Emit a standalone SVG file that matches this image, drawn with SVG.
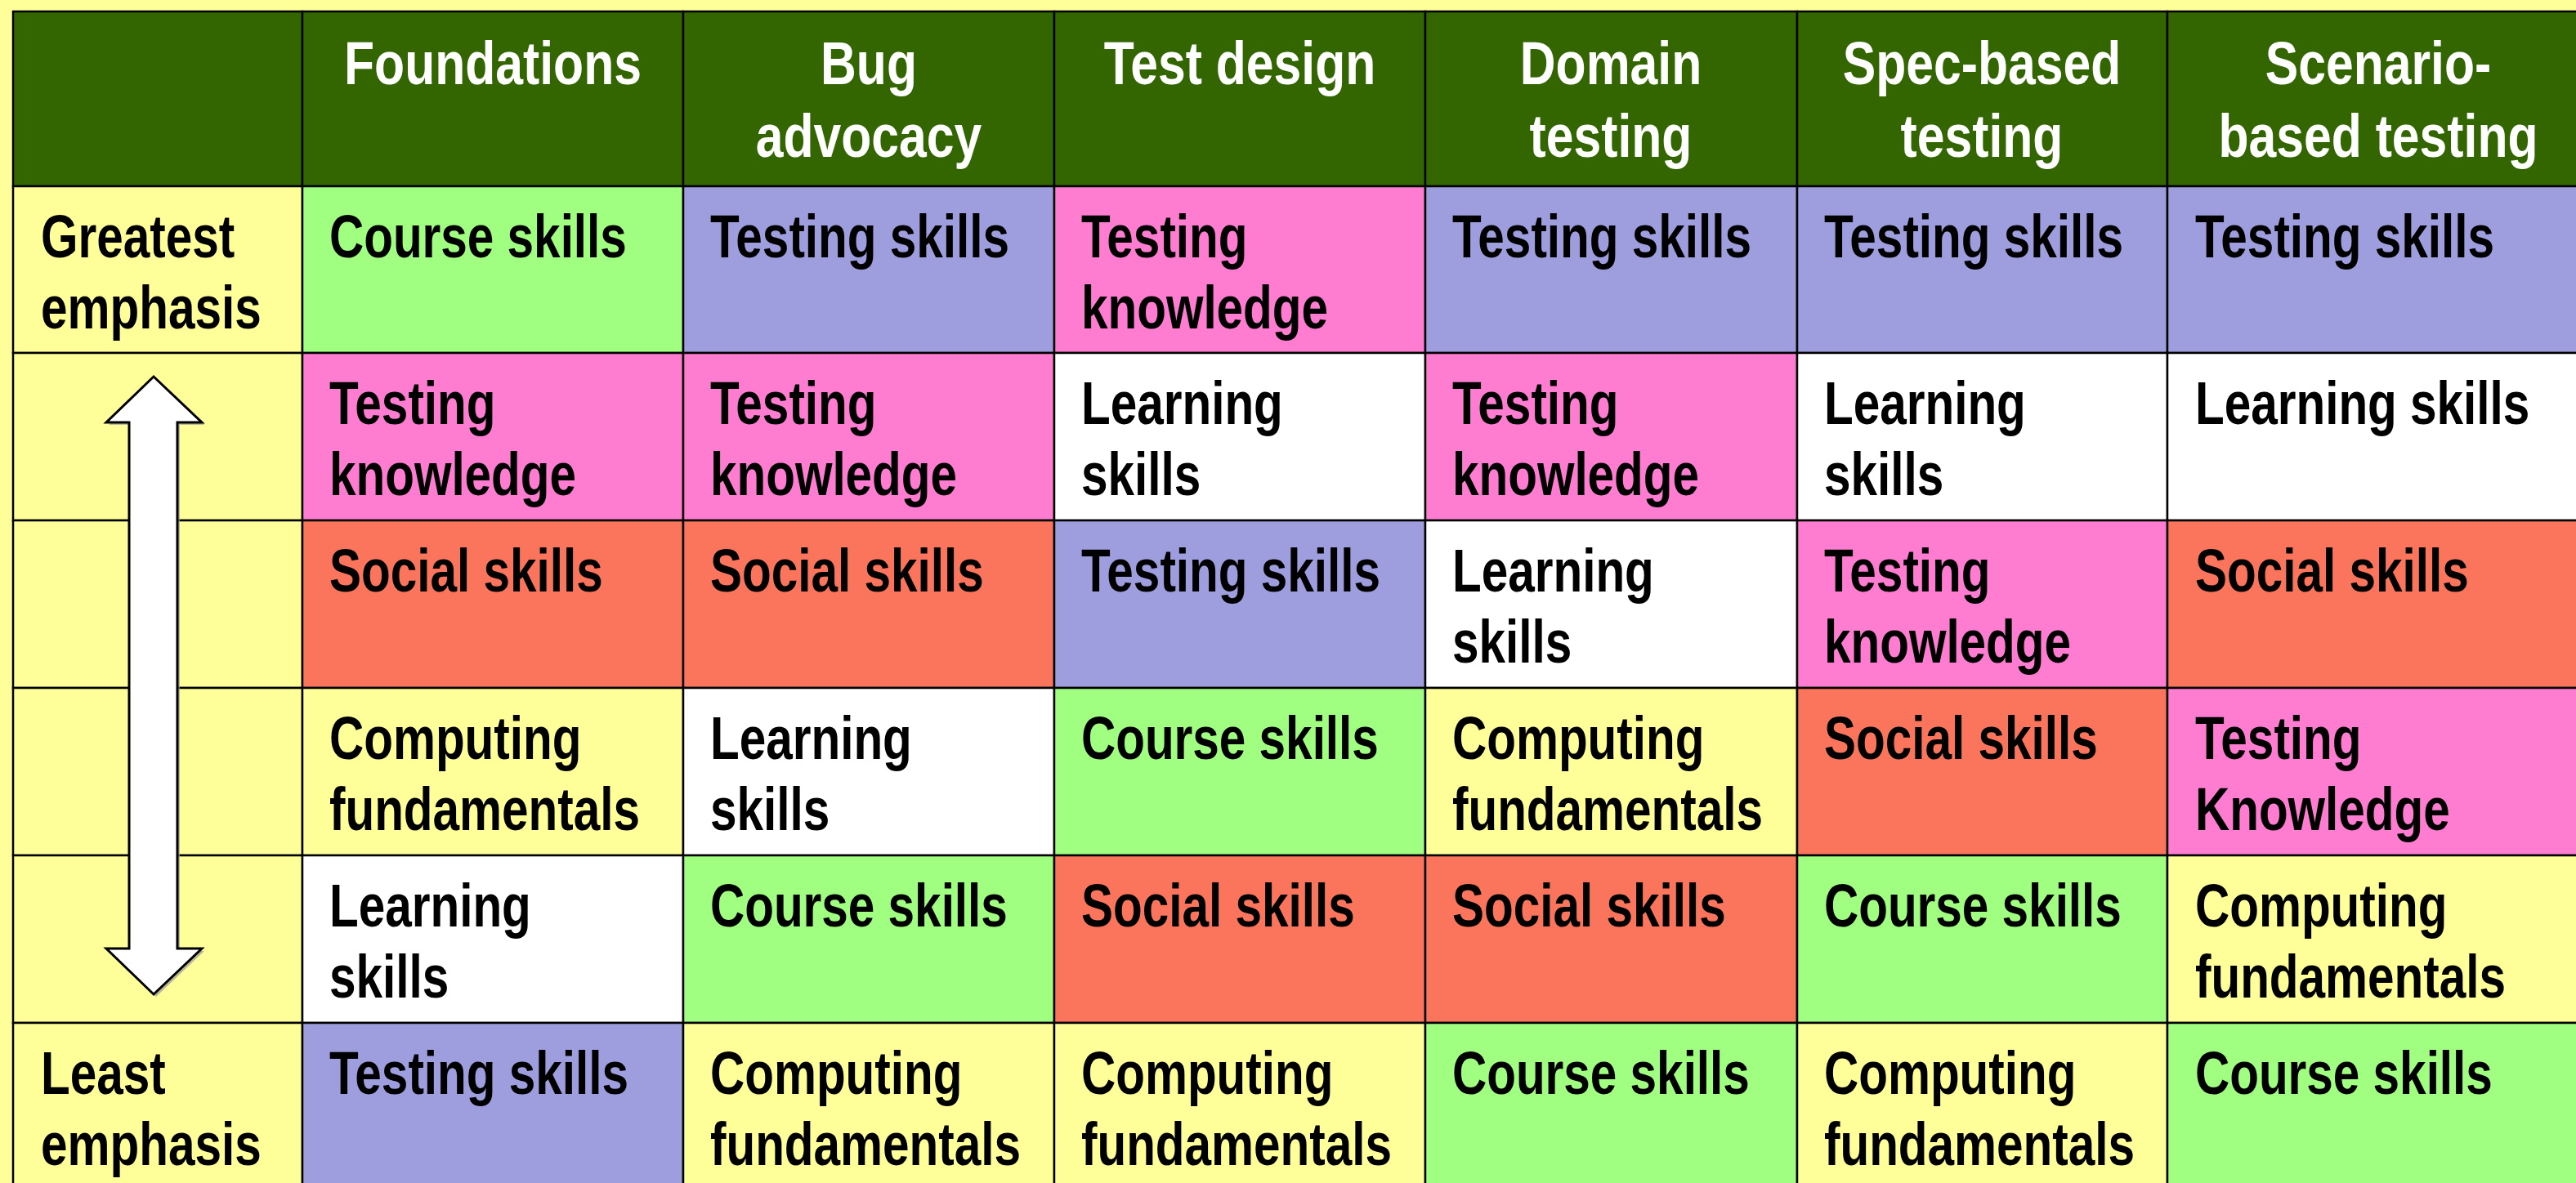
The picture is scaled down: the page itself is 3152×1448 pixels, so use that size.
<svg xmlns="http://www.w3.org/2000/svg" width="3152" height="1448" viewBox="0 0 3152 1448">
<style>
.c{stroke:#000;stroke-width:2.5}
.hd{fill:#336600}
.G{fill:#A0FF80}.L{fill:#9E9EDE}.P{fill:#FF7DD0}.S{fill:#FA755C}.W{fill:#FFFFFF}.Y{fill:#FFFF99}
.t{font-family:"Liberation Sans",Arial,sans-serif;font-weight:bold;font-size:74px;fill:#000}
.h{fill:#FFFFFF;text-anchor:middle}
</style>
<rect x="0" y="0" width="3152" height="1448" fill="#FFFF99"/>
<g id="header">
<g id="h0"><rect class="c hd" x="16" y="14" width="354" height="214"/></g>
<g id="h1"><rect class="c hd" x="370" y="14" width="466" height="214"/><text class="t h" transform="translate(603,103) scale(0.82,1)">Foundations</text></g>
<g id="h2"><rect class="c hd" x="836" y="14" width="454" height="214"/><text class="t h" transform="translate(1063,103) scale(0.82,1)"><tspan x="0" y="0">Bug</tspan><tspan x="0" y="89">advocacy</tspan></text></g>
<g id="h3"><rect class="c hd" x="1290" y="14" width="454" height="214"/><text class="t h" transform="translate(1517,103) scale(0.82,1)">Test design</text></g>
<g id="h4"><rect class="c hd" x="1744" y="14" width="455" height="214"/><text class="t h" transform="translate(1971,103) scale(0.82,1)"><tspan x="0" y="0">Domain</tspan><tspan x="0" y="89">testing</tspan></text></g>
<g id="h5"><rect class="c hd" x="2199" y="14" width="453" height="214"/><text class="t h" transform="translate(2425,103) scale(0.82,1)"><tspan x="0" y="0">Spec-based</tspan><tspan x="0" y="89">testing</tspan></text></g>
<g id="h6"><rect class="c hd" x="2652" y="14" width="516" height="214"/><text class="t h" transform="translate(2910,103) scale(0.82,1)"><tspan x="0" y="0">Scenario-</tspan><tspan x="0" y="89">based testing</tspan></text></g>
</g>
<g id="rowlabels">
<g id="r1c0"><rect class="c Y" x="16" y="228" width="354" height="204"/><text class="t" transform="translate(50,315) scale(0.79,1)"><tspan x="0" y="0">Greatest</tspan><tspan x="0" y="87">emphasis</tspan></text></g>
<g id="r2c0"><rect class="c Y" x="16" y="432" width="354" height="205"/></g>
<g id="r3c0"><rect class="c Y" x="16" y="637" width="354" height="205"/></g>
<g id="r4c0"><rect class="c Y" x="16" y="842" width="354" height="205"/></g>
<g id="r5c0"><rect class="c Y" x="16" y="1047" width="354" height="205"/></g>
<g id="r6c0"><rect class="c Y" x="16" y="1252" width="354" height="210"/><text class="t" transform="translate(50,1339) scale(0.79,1)"><tspan x="0" y="0">Least</tspan><tspan x="0" y="87">emphasis</tspan></text></g>
</g>
<g id="cells">
<g id="r1c1"><rect class="c G" x="370" y="228" width="466" height="204"/><text class="t" transform="translate(403,315) scale(0.79,1)">Course skills</text></g>
<g id="r1c2"><rect class="c L" x="836" y="228" width="454" height="204"/><text class="t" transform="translate(869,315) scale(0.79,1)">Testing skills</text></g>
<g id="r1c3"><rect class="c P" x="1290" y="228" width="454" height="204"/><text class="t" transform="translate(1323,315) scale(0.79,1)"><tspan x="0" y="0">Testing</tspan><tspan x="0" y="87">knowledge</tspan></text></g>
<g id="r1c4"><rect class="c L" x="1744" y="228" width="455" height="204"/><text class="t" transform="translate(1777,315) scale(0.79,1)">Testing skills</text></g>
<g id="r1c5"><rect class="c L" x="2199" y="228" width="453" height="204"/><text class="t" transform="translate(2232,315) scale(0.79,1)">Testing skills</text></g>
<g id="r1c6"><rect class="c L" x="2652" y="228" width="516" height="204"/><text class="t" transform="translate(2686,315) scale(0.79,1)">Testing skills</text></g>

<g id="r2c1"><rect class="c P" x="370" y="432" width="466" height="205"/><text class="t" transform="translate(403,519) scale(0.79,1)"><tspan x="0" y="0">Testing</tspan><tspan x="0" y="87">knowledge</tspan></text></g>
<g id="r2c2"><rect class="c P" x="836" y="432" width="454" height="205"/><text class="t" transform="translate(869,519) scale(0.79,1)"><tspan x="0" y="0">Testing</tspan><tspan x="0" y="87">knowledge</tspan></text></g>
<g id="r2c3"><rect class="c W" x="1290" y="432" width="454" height="205"/><text class="t" transform="translate(1323,519) scale(0.79,1)"><tspan x="0" y="0">Learning</tspan><tspan x="0" y="87">skills</tspan></text></g>
<g id="r2c4"><rect class="c P" x="1744" y="432" width="455" height="205"/><text class="t" transform="translate(1777,519) scale(0.79,1)"><tspan x="0" y="0">Testing</tspan><tspan x="0" y="87">knowledge</tspan></text></g>
<g id="r2c5"><rect class="c W" x="2199" y="432" width="453" height="205"/><text class="t" transform="translate(2232,519) scale(0.79,1)"><tspan x="0" y="0">Learning</tspan><tspan x="0" y="87">skills</tspan></text></g>
<g id="r2c6"><rect class="c W" x="2652" y="432" width="516" height="205"/><text class="t" transform="translate(2686,519) scale(0.79,1)">Learning skills</text></g>

<g id="r3c1"><rect class="c S" x="370" y="637" width="466" height="205"/><text class="t" transform="translate(403,724) scale(0.79,1)">Social skills</text></g>
<g id="r3c2"><rect class="c S" x="836" y="637" width="454" height="205"/><text class="t" transform="translate(869,724) scale(0.79,1)">Social skills</text></g>
<g id="r3c3"><rect class="c L" x="1290" y="637" width="454" height="205"/><text class="t" transform="translate(1323,724) scale(0.79,1)">Testing skills</text></g>
<g id="r3c4"><rect class="c W" x="1744" y="637" width="455" height="205"/><text class="t" transform="translate(1777,724) scale(0.79,1)"><tspan x="0" y="0">Learning</tspan><tspan x="0" y="87">skills</tspan></text></g>
<g id="r3c5"><rect class="c P" x="2199" y="637" width="453" height="205"/><text class="t" transform="translate(2232,724) scale(0.79,1)"><tspan x="0" y="0">Testing</tspan><tspan x="0" y="87">knowledge</tspan></text></g>
<g id="r3c6"><rect class="c S" x="2652" y="637" width="516" height="205"/><text class="t" transform="translate(2686,724) scale(0.79,1)">Social skills</text></g>

<g id="r4c1"><rect class="c Y" x="370" y="842" width="466" height="205"/><text class="t" transform="translate(403,929) scale(0.79,1)"><tspan x="0" y="0">Computing</tspan><tspan x="0" y="87">fundamentals</tspan></text></g>
<g id="r4c2"><rect class="c W" x="836" y="842" width="454" height="205"/><text class="t" transform="translate(869,929) scale(0.79,1)"><tspan x="0" y="0">Learning</tspan><tspan x="0" y="87">skills</tspan></text></g>
<g id="r4c3"><rect class="c G" x="1290" y="842" width="454" height="205"/><text class="t" transform="translate(1323,929) scale(0.79,1)">Course skills</text></g>
<g id="r4c4"><rect class="c Y" x="1744" y="842" width="455" height="205"/><text class="t" transform="translate(1777,929) scale(0.79,1)"><tspan x="0" y="0">Computing</tspan><tspan x="0" y="87">fundamentals</tspan></text></g>
<g id="r4c5"><rect class="c S" x="2199" y="842" width="453" height="205"/><text class="t" transform="translate(2232,929) scale(0.79,1)">Social skills</text></g>
<g id="r4c6"><rect class="c P" x="2652" y="842" width="516" height="205"/><text class="t" transform="translate(2686,929) scale(0.79,1)"><tspan x="0" y="0">Testing</tspan><tspan x="0" y="87">Knowledge</tspan></text></g>

<g id="r5c1"><rect class="c W" x="370" y="1047" width="466" height="205"/><text class="t" transform="translate(403,1134) scale(0.79,1)"><tspan x="0" y="0">Learning</tspan><tspan x="0" y="87">skills</tspan></text></g>
<g id="r5c2"><rect class="c G" x="836" y="1047" width="454" height="205"/><text class="t" transform="translate(869,1134) scale(0.79,1)">Course skills</text></g>
<g id="r5c3"><rect class="c S" x="1290" y="1047" width="454" height="205"/><text class="t" transform="translate(1323,1134) scale(0.79,1)">Social skills</text></g>
<g id="r5c4"><rect class="c S" x="1744" y="1047" width="455" height="205"/><text class="t" transform="translate(1777,1134) scale(0.79,1)">Social skills</text></g>
<g id="r5c5"><rect class="c G" x="2199" y="1047" width="453" height="205"/><text class="t" transform="translate(2232,1134) scale(0.79,1)">Course skills</text></g>
<g id="r5c6"><rect class="c Y" x="2652" y="1047" width="516" height="205"/><text class="t" transform="translate(2686,1134) scale(0.79,1)"><tspan x="0" y="0">Computing</tspan><tspan x="0" y="87">fundamentals</tspan></text></g>

<g id="r6c1"><rect class="c L" x="370" y="1252" width="466" height="210"/><text class="t" transform="translate(403,1339) scale(0.79,1)">Testing skills</text></g>
<g id="r6c2"><rect class="c Y" x="836" y="1252" width="454" height="210"/><text class="t" transform="translate(869,1339) scale(0.79,1)"><tspan x="0" y="0">Computing</tspan><tspan x="0" y="87">fundamentals</tspan></text></g>
<g id="r6c3"><rect class="c Y" x="1290" y="1252" width="454" height="210"/><text class="t" transform="translate(1323,1339) scale(0.79,1)"><tspan x="0" y="0">Computing</tspan><tspan x="0" y="87">fundamentals</tspan></text></g>
<g id="r6c4"><rect class="c G" x="1744" y="1252" width="455" height="210"/><text class="t" transform="translate(1777,1339) scale(0.79,1)">Course skills</text></g>
<g id="r6c5"><rect class="c Y" x="2199" y="1252" width="453" height="210"/><text class="t" transform="translate(2232,1339) scale(0.79,1)"><tspan x="0" y="0">Computing</tspan><tspan x="0" y="87">fundamentals</tspan></text></g>
<g id="r6c6"><rect class="c G" x="2652" y="1252" width="516" height="210"/><text class="t" transform="translate(2686,1339) scale(0.79,1)">Course skills</text></g>
</g>
<g id="connectors">
<path d="M191,464 L250,520 L220,520 L220,1164 L250,1164 L191,1220 L133,1164 L161,1164 L161,520 L133,520 Z" fill="#999" stroke="none" opacity="0.7"/>
<path d="M188,461 L247,517 L217,517 L217,1161 L247,1161 L188,1217 L130,1161 L158,1161 L158,517 L130,517 Z" fill="#FFFFFF" stroke="#000" stroke-width="3" stroke-linejoin="miter"/>
</g>
</svg>
